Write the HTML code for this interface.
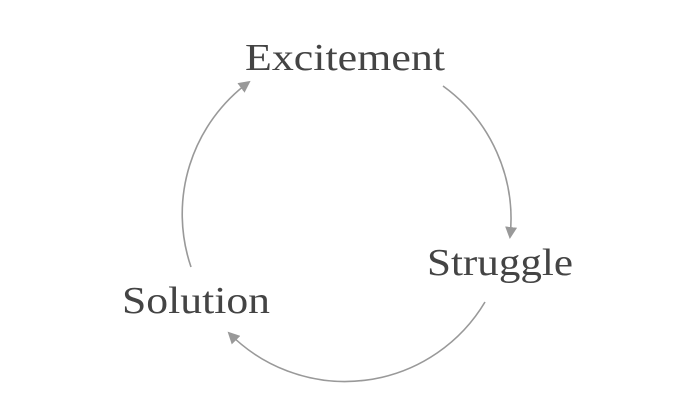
<!DOCTYPE html>
<html><head><style>html,body{margin:0;padding:0;background:#fff;}</style></head>
<body>
<svg width="690" height="400" viewBox="0 0 690 400" xmlns="http://www.w3.org/2000/svg">
<defs>
<marker id="a" markerWidth="12" markerHeight="12" refX="10" refY="6" orient="auto" markerUnits="userSpaceOnUse">
<path d="M0,0 L12,6 L0,12 Z" fill="#999"/>
</marker>
</defs>
<g fill="none" stroke="#999" stroke-width="1.6">
<path d="M443,86 A164,164 0 0 1 510,237" marker-end="url(#a)"/>
<path d="M485,302 A163,163 0 0 1 229,333" marker-end="url(#a)"/>
<path d="M191,267 A164,164 0 0 1 249,82" marker-end="url(#a)"/>
</g>
<g font-family="Georgia, 'Liberation Serif', serif" font-size="38" fill="#444">
<text x="245" y="70" textLength="200" lengthAdjust="spacingAndGlyphs">Excitement</text>
<text x="427" y="275" textLength="146" lengthAdjust="spacingAndGlyphs">Struggle</text>
<text x="122" y="313" textLength="148" lengthAdjust="spacingAndGlyphs">Solution</text>
</g>
</svg>
</body></html>
